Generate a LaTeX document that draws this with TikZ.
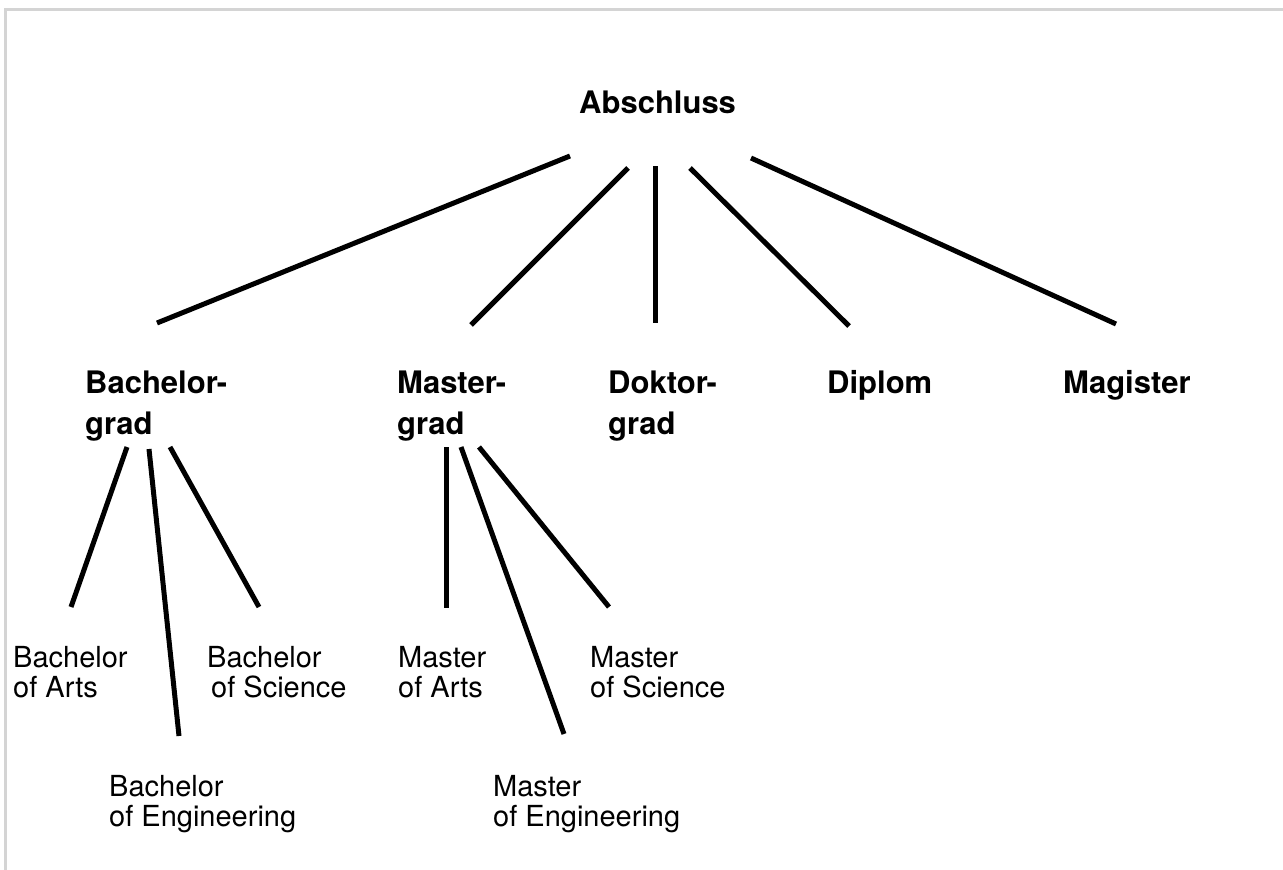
\documentclass[tikz,border=0pt]{standalone}
\usepackage{fontspec}
\setmainfont{TeX Gyre Heros}
\definecolor{framegray}{HTML}{D4D4D4}
\begin{document}
\begin{tikzpicture}[x=1pt,y=-1pt,
  branch/.style={line width=5pt, black},
  frameline/.style={line width=3pt, framegray},
  degree/.style={anchor=base west, inner sep=0pt, align=left,
    font=\fontsize{31}{41}\selectfont\bfseries},
  title/.style={anchor=base west, inner sep=0pt, align=left,
    font=\fontsize{29}{30.5}\selectfont}]
\useasboundingbox (0,0) rectangle (1283,870);
% frame along the top and left edges
\draw[frameline] (5.5,870) -- (5.5,9.5) -- (1283,9.5);

% root (base anchor = baseline of the last line)
\node[degree] (abschluss) at (579,113) {Abschluss};

% degree types
\node[degree] (bachelor) at (85,434) {Bachelor-\\grad};
\node[degree] (master) at (397,434) {Master-\\grad};
\node[degree] (doktor) at (608,434) {Doktor-\\grad};
\node[degree] (diplom) at (827,393) {Diplom};
\node[degree] (magister) at (1063,393) {Magister};

% bachelor titles
\node[title] (ba) at (13,697.5) {Bachelor\\of Arts};
\node[title] (bs) at (207,697.5) {Bachelor\\\hspace*{4pt}of Science};
\node[title] (be) at (109,826.5) {Bachelor\\of Engineering};

% master titles
\node[title] (ma) at (398,697.5) {Master\\of Arts};
\node[title] (ms) at (590,697.5) {Master\\of Science};
\node[title] (me) at (493,826.5) {Master\\of Engineering};

% connector ends
\coordinate (abs-bachelor) at (570,156);
\coordinate (abs-master)   at (628,168);
\coordinate (abs-doktor)   at (655,166);
\coordinate (abs-diplom)   at (690,168);
\coordinate (abs-magister) at (751,158);
\coordinate (bachelor-top) at (157,323);
\coordinate (master-top)   at (471,325);
\coordinate (doktor-top)   at (655,323);
\coordinate (diplom-top)   at (849,326);
\coordinate (magister-top) at (1116,324);

\coordinate (bachelor-ba) at (127,447);
\coordinate (bachelor-be) at (149,449);
\coordinate (bachelor-bs) at (170,447);
\coordinate (ba-top) at (71,607);
\coordinate (be-top) at (179,736);
\coordinate (bs-top) at (259,607);

\coordinate (master-ma) at (446,447);
\coordinate (master-me) at (461,447);
\coordinate (master-ms) at (479,447);
\coordinate (ma-top) at (446,608);
\coordinate (me-top) at (564,734);
\coordinate (ms-top) at (609,607);

% branches
\draw[branch] (abs-bachelor) -- (bachelor-top);
\draw[branch] (abs-master) -- (master-top);
\draw[branch] (abs-doktor) -- (doktor-top);
\draw[branch] (abs-diplom) -- (diplom-top);
\draw[branch] (abs-magister) -- (magister-top);

\draw[branch] (bachelor-ba) -- (ba-top);
\draw[branch] (bachelor-be) -- (be-top);
\draw[branch] (bachelor-bs) -- (bs-top);

\draw[branch] (master-ma) -- (ma-top);
\draw[branch] (master-me) -- (me-top);
\draw[branch] (master-ms) -- (ms-top);
\end{tikzpicture}
\end{document}
